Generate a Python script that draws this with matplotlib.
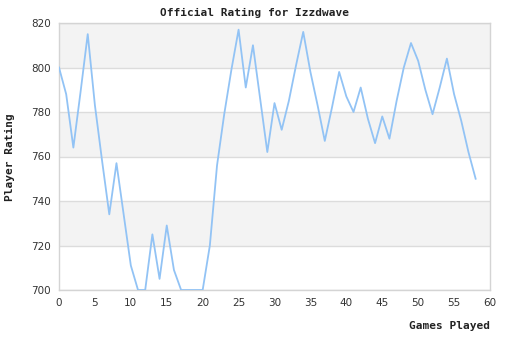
import matplotlib
matplotlib.use('Agg')
import matplotlib.pyplot as plt

# ratings, one per game (0..58)
games = list(range(59))
rating = [800, 788, 764, 789, 815, 783, 758, 734, 757, 734,
          711, 700, 700, 725, 705, 729, 709, 700, 700, 700,
          700, 720, 756, 779, 799, 817, 791, 810, 786, 762,
          784, 772, 785, 801, 816, 798, 783, 767, 782, 798,
          787, 780, 791, 777, 766, 778, 768, 785, 800, 811,
          803, 790, 779, 791, 804, 788, 776, 762, 750]
xticks = list(range(0, 61, 5))
yticks = list(range(700, 821, 20))

fig = plt.figure(figsize=(5.1, 3.4), dpi=100)
ax = fig.add_axes([59/510, 1 - 290/340, 431/510, 267/340])

# alternating background bands
for i, lo in enumerate(yticks[:-1]):
    if i % 2 == 1:
        ax.axhspan(lo, lo + 20, color='#f3f3f3', zorder=0, lw=0)

ax.plot(games, rating, color='#92c3f5', lw=1.3, zorder=3)

ax.set_xlim(0, 60)
ax.set_ylim(700, 820)
ax.set_xticks(xticks)
ax.set_yticks(yticks)
ax.grid(axis='y', color='#dcdcdc', lw=1, zorder=1)
ax.tick_params(length=0, labelsize=7.5, labelcolor='#333333', pad=6)
for s in ax.spines.values():
    s.set_color('#d4d4d4')
    s.set_linewidth(1)

fig.text(0.5, 1 - 13/340, 'Official Rating for Izzdwave', ha='center', va='center',
         family='DejaVu Sans Mono', weight='bold', fontsize=8, color='#222222')
fig.text(10/510, 1 - 157/340, 'Player Rating', ha='center', va='center', rotation=90,
         family='DejaVu Sans Mono', weight='bold', fontsize=8, color='#222222')
fig.text(490/510, 1 - 326/340, 'Games Played', ha='right', va='center',
         family='DejaVu Sans Mono', weight='bold', fontsize=8, color='#222222')

fig.savefig('out.png', dpi=100)
